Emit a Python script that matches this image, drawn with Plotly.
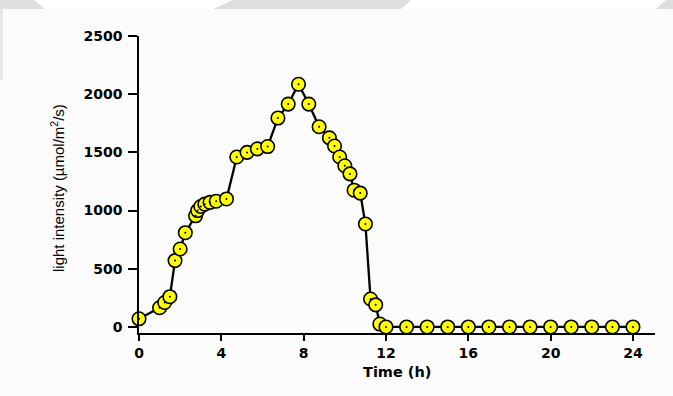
import plotly.graph_objects as go

# Hourly light intensity readings over one day
time_h = [0, 1.0, 1.25, 1.5, 1.75, 2.0, 2.25, 2.75, 2.85, 3.0, 3.2, 3.45, 3.75, 4.25,
          4.75, 5.25, 5.75, 6.25, 6.75, 7.25, 7.75, 8.25, 8.75, 9.25, 9.5, 9.75,
          10.0, 10.25, 10.45, 10.75, 11.0, 11.25, 11.5, 11.7,
          12, 13, 14, 15, 16, 17, 18, 19, 20, 21, 22, 23, 24]
intensity = [70, 165, 210, 260, 570, 670, 810, 955, 1000, 1035, 1055, 1070, 1080, 1100,
             1460, 1500, 1530, 1550, 1795, 1915, 2085, 1915, 1720, 1625, 1555, 1460,
             1385, 1315, 1175, 1150, 885, 240, 190, 25,
             0, 0, 0, 0, 0, 0, 0, 0, 0, 0, 0, 0, 0]

x_ticks = [0, 4, 8, 12, 16, 20, 24]
y_ticks = [0, 500, 1000, 1500, 2000, 2500]

W, H = 673, 396
L, R, T, B = 139, 18, 36, 63
PW, PH = W - L - R, H - T - B


def to_paper(px, py):
    return (px - L) / PW, (H - B - py) / PH


def poly(points, color):
    pts = [to_paper(x, y) for x, y in points]
    path = "M " + " L ".join(f"{x:.4f},{y:.4f}" for x, y in pts) + " Z"
    return dict(type="path", xref="paper", yref="paper", path=path,
                fillcolor=color, line=dict(width=0), layer="below")


tick_font = dict(family="DejaVu Sans", size=14, color="black", weight="bold")

fig = go.Figure()
fig.add_trace(go.Scatter(
    x=time_h, y=intensity, mode="lines+markers",
    line=dict(color="black", width=2.3),
    marker=dict(symbol="circle", size=13.5, color="#FFFF00",
                line=dict(color="black", width=1.6)),
    cliponaxis=False, showlegend=False, hoverinfo="x+y"))
fig.add_trace(go.Scatter(
    x=time_h, y=intensity, mode="markers",
    marker=dict(size=2, color="black"),
    cliponaxis=False, showlegend=False, hoverinfo="skip"))

# Grey page band across the top edge
shapes = [
    poly([(0, 0), (W, 0), (W, 9), (0, 9)], "#dedede"),
    poly([(34, 0), (233, 0), (213, 9), (45, 9)], "#ffffff"),
    poly([(411, 0), (666, 0), (656, 9), (401, 9)], "#ffffff"),
    poly([(0, 9), (3, 9), (3, 80), (0, 80)], "#e6e6e6"),
]

fig.update_layout(
    width=W, height=H,
    margin=dict(l=L, r=R, t=T, b=B),
    paper_bgcolor="#fbfbfb", plot_bgcolor="#fbfbfb",
    shapes=shapes,
    xaxis=dict(range=[0, 25.07], tickvals=x_ticks, ticktext=[str(v) for v in x_ticks],
               showgrid=False, zeroline=False, showline=True, linecolor="black",
               linewidth=1.5, ticks="outside", ticklen=6, tickwidth=1.5,
               tickcolor="black", tickfont=tick_font),
    yaxis=dict(range=[-52, 2500], tickvals=y_ticks, ticktext=[str(v) for v in y_ticks],
               showgrid=False, zeroline=False, showline=True, linecolor="black",
               linewidth=1.5, ticks="outside", ticklen=9, tickwidth=1.5,
               tickcolor="black", tickfont=tick_font, ticklabelstandoff=3),
    annotations=[
        dict(text="light intensity (µmol/m<sup>2</sup>/s)", textangle=-90,
             xref="paper", yref="paper", x=to_paper(57, 188)[0], y=to_paper(57, 188)[1],
             xanchor="center", yanchor="middle", showarrow=False,
             font=dict(family="Liberation Sans", size=15, color="black")),
        dict(text="Time (h)", xref="paper", yref="paper",
             x=to_paper(397, 372)[0], y=to_paper(397, 372)[1],
             xanchor="center", yanchor="middle", showarrow=False,
             font=dict(family="DejaVu Sans", size=14.5, color="black", weight="bold")),
    ],
)

fig.write_html("out.html")
